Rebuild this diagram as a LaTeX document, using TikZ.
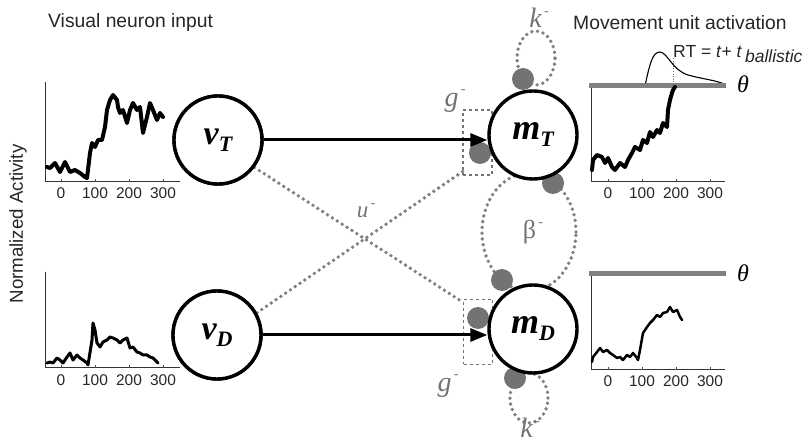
\documentclass[tikz,border=0pt]{standalone}
\usepackage{fontspec}
\setmainfont{Liberation Sans}
\newfontfamily\tms{Liberation Serif}
\usetikzlibrary{arrows.meta}
\definecolor{dotgray}{gray}{0.5}
\definecolor{blobgray}{gray}{0.45}
\definecolor{labgray}{gray}{0.45}
\definecolor{bargray}{gray}{0.5}
\begin{document}
\begin{tikzpicture}[x=1pt,y=-1pt,
  unit/.style={circle, draw, line width=3.4pt, fill=white, minimum size=88pt, inner sep=0pt},
  dotline/.style={draw=dotgray, line width=3.8pt, line cap=round, dash pattern=on 0pt off 5.8pt},
  blob/.style={circle, fill=blobgray, minimum size=22pt, inner sep=0pt},
  gbox/.style={draw=labgray, dashed, line width=1.3pt, minimum width=29pt, minimum height=65pt, inner sep=0pt},
  lab/.style={text=labgray, font=\tms\itshape\fontsize{28}{28}\selectfont, inner sep=0pt},
  conn/.style={line width=3pt, -{Triangle[length=17pt,width=13pt]}},
  axis/.style={line width=1pt, draw=black!80},
  bar/.style={line width=5pt, draw=bargray},
  trace/.style={line width=#1, line join=round, line cap=round},
  tick/.style={font=\fontsize{15.5}{15.5}\selectfont, inner sep=0pt, text=black!85},
  title/.style={font=\fontsize{19.3}{19.3}\selectfont, inner sep=0pt, anchor=west, text=black!85},
  thet/.style={font=\tms\itshape\fontsize{24}{24}\selectfont, inner sep=0pt}
]
\useasboundingbox (0,0) rectangle (812,446);

% ---- titles
\node[title] (t1) at (48,23) {Visual neuron input};
\node[title] (t2) at (573,23) {Movement unit activation};
\node[font=\fontsize{18.7}{18.7}\selectfont, rotate=90, inner sep=0pt, text=black!85] (ylab) at (18,224) {Normalized Activity};

% ---- dotted loops and cross connections
\draw[dotline] (536,58) ellipse [x radius=19pt, y radius=27pt];
\draw[dotline] (529,398) ellipse [x radius=19pt, y radius=25pt];
\draw[dotline] (529,232) ellipse [x radius=47pt, y radius=59pt];

\node[unit] (vT) at (218,140) {};
\node[unit] (vD) at (217,335) {};
\node[gbox] (gT) at (477.5,142.5) {};
\node[gbox] (gD) at (478,332) {};

\draw[dotline] (vT.-37) -- ([xshift=1pt,yshift=-4pt]gD.north west);
\draw[dotline] (vD.29) -- ([xshift=3pt,yshift=6pt]gT.south west);

% ---- gray blobs
\node[blob] (bT) at (480,153) {};
\node[blob] (bD) at (478,318) {};
\node[blob] (kT) at (523,79) {};
\node[blob] (kD) at (515,378) {};
\node[blob] (b1) at (553,183) {};
\node[blob] (b2) at (502,280) {};
\node[gbox] (gT2) at (477.5,142.5) {};
\node[gbox] (gD2) at (478,332) {};

% ---- units
\node[unit] (vT2) at (218,140) {\tms\bfseries\itshape\fontsize{34}{34}\selectfont v\raisebox{-7pt}{\fontsize{22}{22}\selectfont T}};
\node[unit] (vD2) at (217,335) {\tms\bfseries\itshape\fontsize{34}{34}\selectfont v\raisebox{-7pt}{\fontsize{22}{22}\selectfont D}};
\node[unit] (mT) at (533,135) {\tms\bfseries\itshape\fontsize{36}{36}\selectfont m\raisebox{-7pt}{\fontsize{22}{22}\selectfont T}};
\node[unit] (mD) at (533,329) {\tms\bfseries\itshape\fontsize{36}{36}\selectfont m\raisebox{-7pt}{\fontsize{22}{22}\selectfont D}};

\draw[conn] (vT2.east) -- (vT2.east -| mT.west);
\draw[conn] (vD2.east) -- (vD2.east -| mD.west);

% ---- gray labels
\newcommand{\supminus}{\raisebox{0.45em}{\fontsize{14}{14}\selectfont\upshape\,-}}
\node[lab] (lk1) at (539,18) {k\supminus};
\node[lab] (lg1) at (455,101) {g\supminus};
\node[lab] (lg2) at (448,386) {g\supminus};
\node[lab] (lk2) at (530,428) {k\supminus};
\node[lab, font=\tms\fontsize{26}{26}\selectfont] (lb) at (533,232) {β\supminus};
\node[lab, font=\tms\itshape\fontsize{23}{23}\selectfont] (lu) at (366,211) {u\supminus};

% ---- top-left plot
\coordinate (ptlo) at (45,182);
\draw[axis] (45,82) -- (ptlo) -- (180,182);
\foreach \x/\l [count=\i] in {61/0,95/100,129/200,163/300}{
  \draw[line width=0.6pt, black!70] (\x,182) -- (\x,179);
  \node[tick] (tla\i) at (\x,193) {\l};
}
\draw[trace=4pt] plot coordinates {(47,167) (50,168) (55,163) (60,172) (65,162) (70,172) (75,170) (80,173) (85,177) (87,178) (90,153) (92,143) (95,147) (98,140) (102,140) (105,127) (107,110) (110,100) (113,95) (117,100) (118,107) (120,113) (123,110) (127,123) (130,110) (133,103) (137,110) (140,107) (143,133) (147,117) (150,103) (153,110) (157,120) (160,113) (163,117)};

% ---- bottom-left plot
\draw[axis] (45,272) -- (45,368) -- (180,368);
\foreach \x/\l [count=\i] in {61/0,95/100,129/200,163/300}{
  \draw[line width=0.6pt, black!70] (\x,368) -- (\x,365);
  \node[tick] (tlb\i) at (\x,380) {\l};
}
\draw[trace=3pt] plot coordinates {(47,363) (50,362) (53,363) (57,358) (60,360) (63,363) (67,357) (70,353) (73,360) (77,355) (80,358) (83,360) (87,363) (88,365) (92,340) (93,323) (95,330) (97,343) (100,347) (103,342) (107,340) (110,337) (113,338) (117,340) (120,343) (123,340) (127,338) (130,348) (133,347) (137,352) (140,353) (143,355) (147,355) (150,357) (153,358) (157,362) (158,363)};

% ---- top-right plot
\draw[axis] (591,88) -- (591,182) -- (725,182);
\foreach \x/\l [count=\i] in {608/0,642/100,676/200,710/300}{
  \draw[line width=0.6pt, black!70] (\x,182) -- (\x,179);
  \node[tick] (tra\i) at (\x,193) {\l};
}
\draw[line width=1.1pt] (645,86) .. controls (650,62) and (653,52) .. (660,52) .. controls (668,53) and (672,70) .. (688,75) .. controls (702,79) and (715,80) .. (724,84);
\draw[bar] (589,86) -- (726,86);
\draw[line width=0.6pt, dotted, black!60] (673,58) -- (673,86);
\draw[trace=4pt] plot coordinates {(592,170) (593,160) (597,155) (602,157) (605,163) (608,158) (612,167) (615,170) (620,163) (625,167) (628,160) (632,153) (635,147) (640,150) (643,140) (647,143) (650,132) (653,137) (657,130) (660,133) (663,123) (667,127) (668,110) (670,100) (672,93) (673,90) (675,87)};
\node[thet] (th1) at (743,84) {θ};
\node[font=\fontsize{17.5}{17.5}\selectfont, anchor=base west, inner sep=0pt, text=black!85] (rt) at (673,58) {RT = \textit{t}+ \textit{t}\,\raisebox{-5pt}{\textit{ballistic}}};

% ---- bottom-right plot
\draw[axis] (591,276) -- (591,370) -- (725,370);
\foreach \x/\l [count=\i] in {608/0,642/100,676/200,710/300}{
  \draw[line width=0.6pt, black!70] (\x,370) -- (\x,367);
  \node[tick] (trb\i) at (\x,381) {\l};
}
\draw[bar] (589,274) -- (726,274);
\draw[trace=2.5pt] plot coordinates {(592,362) (593,357) (597,352) (600,348) (603,352) (607,350) (610,353) (613,355) (617,358) (620,357) (623,360) (627,355) (630,357) (633,353) (637,358) (638,360) (640,350) (643,333) (647,327) (650,323) (653,320) (657,315) (660,317) (663,313) (667,312) (670,307) (673,312) (677,310) (680,317) (682,320)};
\node[thet] (th2) at (743,273) {θ};
\end{tikzpicture}
\end{document}
